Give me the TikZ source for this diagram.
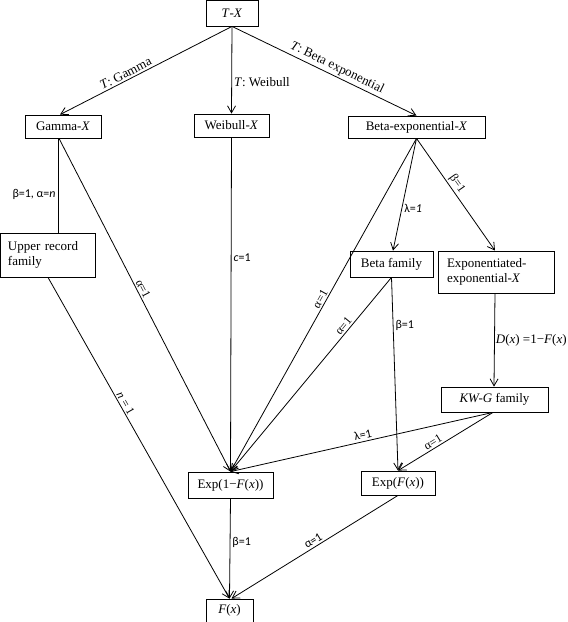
\documentclass[tikz,border=0pt]{standalone}
\usepackage{fontspec}
\setmainfont{Liberation Serif}
\newfontfamily\lblsans{Carlito}
\usetikzlibrary{arrows.meta}
\begin{document}
\begin{tikzpicture}[x=1pt,y=-1pt,
 box/.style={draw, line width=0.8pt, inner sep=0pt, font=\fontsize{13}{15}\selectfont, align=center},
 conn/.style={line width=0.8pt},
 arr/.style={conn, -{Straight Barb[length=7pt,width=8pt,line width=0.8pt]}},
 slab/.style={font=\lblsans\fontsize{12}{13}\selectfont, inner sep=2pt},
 rlab/.style={font=\fontsize{13}{14}\selectfont, inner sep=2pt},
 alab/.style={font=\fontsize{12}{13}\selectfont, inner sep=1.5pt},
]
\useasboundingbox (0,0) rectangle (568,622);
% boxes
\node[box, minimum width=52pt, minimum height=26pt] (tx) at (232,13) {\textit{T}-\textit{X}};
\node[box, minimum width=76pt, minimum height=23pt] (gam) at (63,126.5) {Gamma-\textit{X}};
\node[box, minimum width=75pt, minimum height=23pt] (wei) at (231.5,125.5) {Weibull-\textit{X}};
\node[box, minimum width=137pt, minimum height=22pt] (bex) at (416.5,127) {Beta-exponential-\textit{X}};
\node[box, minimum width=95pt, minimum height=44pt, align=left, text width=80pt] (up) at (48,255) {Upper record\\family};
\node[box, minimum width=83pt, minimum height=26pt] (bfam) at (391.5,264) {Beta family};
\node[box, minimum width=116pt, minimum height=42pt, align=left, text width=98pt] (eex) at (496,272) {Exponentiated-\\exponential-\textit{X}};
\node[box, minimum width=107pt, minimum height=25pt] (kwg) at (494.5,399.5) {\textit{KW-G} family};
\node[box, minimum width=85pt, minimum height=26pt] (e1f) at (230.5,485) {Exp(1\textminus\textit{F}(\textit{x}))};
\node[box, minimum width=74pt, minimum height=24pt] (ef) at (398,483) {Exp(\textit{F}(\textit{x}))};
\node[box, minimum width=47pt, minimum height=23pt] (fx) at (229.5,610.5) {\textit{F}(\textit{x})};
% connectors from T-X
\draw[arr] (tx.south) -- node[rlab, sloped, above, pos=0.6] {\textit{T}: Gamma} ([xshift=-3pt]gam.north);
\draw[arr] (tx.south) -- node[rlab, right, pos=0.64] {\textit{T}: Weibull} (wei.north);
\draw[arr] (tx.south) -- node[rlab, sloped, above, pos=0.55] {\textit{T}: Beta exponential} (bex.north);
% from Gamma-X
\draw[conn] ([xshift=-5pt]gam.south) -- node[slab, left, pos=0.6] {β=1, α=\textit{n}} ([xshift=-5pt]gam.south |- up.north);
\draw[arr] ([xshift=-4pt]gam.south) -- node[alab, sloped, above, pos=0.46] {α=1} (e1f.north);
% from Weibull-X
\draw[arr] (wei.south) -- node[slab, right, pos=0.36] {\textit{c}=1} (e1f.north);
% from Upper record
\draw[arr] (up.south) -- node[alab, sloped, above, pos=0.4] {\textit{n} = 1} (fx.north);
% from Beta-exponential-X
\draw[arr] (bex.south) -- node[slab, right, pos=0.62] {λ=\textit{1}} ([xshift=1.5pt]bfam.north);
\draw[arr] (bex.south) -- node[alab, sloped, above, pos=0.44] {β=1} ([xshift=-1pt]eex.north);
\draw[arr] (bex.south) -- node[alab, sloped, above, pos=0.49] {α=1} (e1f.north);
% from Beta family
\draw[arr] (bfam.south) -- node[alab, sloped, above, pos=0.27] {α=1} (e1f.north);
\draw[arr] (bfam.south) -- node[slab, right, pos=0.25] {β=1} (ef.north);
% from Exponentiated-exponential-X
\draw[arr] ([xshift=-1pt]eex.south) -- node[rlab, right, pos=0.5, inner sep=1pt] {\textit{D}(\textit{x}) =1\textminus\textit{F}(\textit{x})} ([xshift=-0.5pt]kwg.north);
% from KW-G
\draw[arr] ([xshift=-1.5pt]kwg.south) -- node[slab, sloped, above, pos=0.49] {λ=1} (e1f.north);
\draw[arr] ([xshift=-1.5pt]kwg.south) -- node[alab, sloped, above, pos=0.6] {α=1} (ef.north);
% to F(x)
\draw[arr] (e1f.south) -- node[slab, right, pos=0.44] {β=1} (fx.north);
\draw[arr] (ef.south) -- node[slab, sloped, above, pos=0.49] {α=1} ([xshift=2pt]fx.north);
\end{tikzpicture}
\end{document}
